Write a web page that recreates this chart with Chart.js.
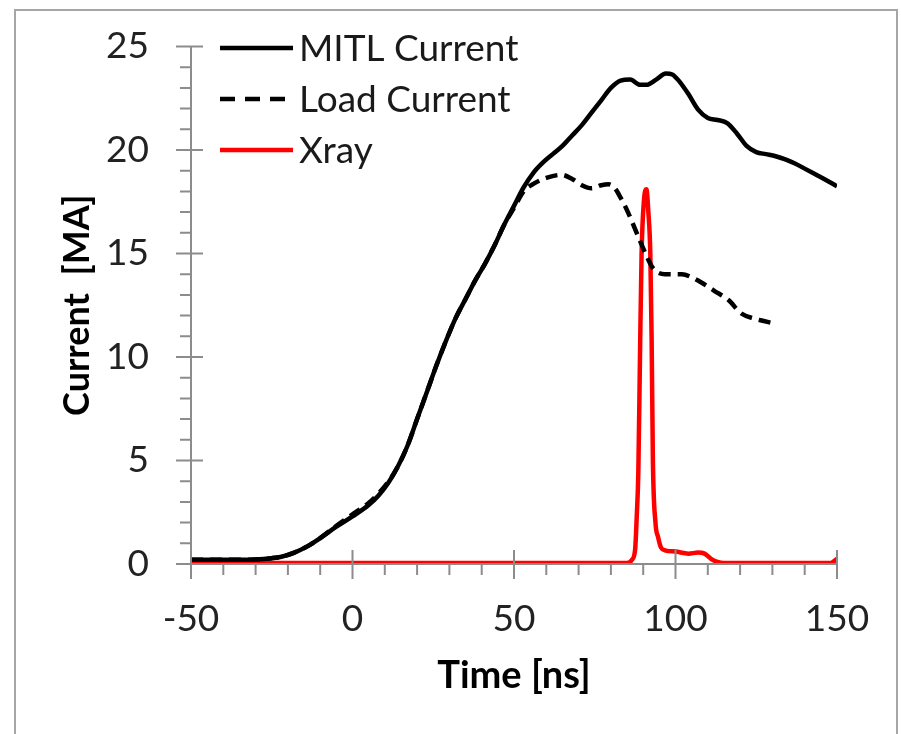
<!DOCTYPE html>
<html>
<head>
<meta charset="utf-8">
<script src="https://cdn.jsdelivr.net/npm/chart.js@4.4.0/dist/chart.umd.min.js"></script>
<style>
  body { margin: 0; background: #fff; }
  canvas { display: block; }
</style>
</head>
<body>
<canvas id="currentChart" width="901" height="734"></canvas>
<script>
// values
const mitlTime = [-50, -40, -30, -25, -22, -18, -14, -10, -5, 0, 5, 8, 11, 14, 17, 20, 23, 26, 29, 32, 35, 38, 41, 44, 47, 50, 53, 56, 59, 62, 65, 68, 71, 74, 77, 80, 83, 86, 89, 91, 94, 97, 99, 101, 104, 107, 110, 113, 116, 119, 122, 125, 128, 131, 134, 137, 140, 143, 146, 150];
const mitlCurrent = [0.2, 0.2, 0.22, 0.28, 0.35, 0.55, 0.85, 1.25, 1.8, 2.3, 2.85, 3.3, 3.9, 4.7, 5.7, 7.0, 8.3, 9.6, 10.8, 11.9, 12.8, 13.7, 14.5, 15.4, 16.4, 17.3, 18.2, 18.9, 19.4, 19.8, 20.2, 20.7, 21.2, 21.8, 22.4, 23.0, 23.35, 23.4, 23.15, 23.15, 23.4, 23.7, 23.65, 23.35, 22.7, 21.95, 21.55, 21.45, 21.3, 20.8, 20.2, 19.9, 19.8, 19.7, 19.55, 19.35, 19.1, 18.85, 18.6, 18.25];

const loadTime = [-50, -40, -30, -25, -22, -18, -14, -10, -5, 0, 5, 8, 11, 14, 17, 20, 23, 26, 29, 32, 35, 38, 41, 44, 47, 50, 53, 56.4, 60, 64.7, 68, 71, 74, 77, 79.2, 81, 83, 85.4, 88.5, 91, 93, 96.7, 102, 105, 108, 112, 116.4, 120.4, 124.5, 127, 129.7];
const loadCurrent = [0.2, 0.2, 0.22, 0.28, 0.35, 0.55, 0.85, 1.25, 1.85, 2.4, 2.95, 3.4, 3.95, 4.7, 5.7, 7.0, 8.3, 9.6, 10.8, 11.9, 12.8, 13.7, 14.5, 15.4, 16.4, 17.2, 18.0, 18.4, 18.65, 18.8, 18.6, 18.3, 18.15, 18.3, 18.35, 18.2, 17.7, 16.95, 15.8, 14.9, 14.3, 14.0, 14.0, 13.85, 13.6, 13.2, 12.75, 12.1, 11.85, 11.75, 11.65];

const xrayTime = [-50, -20, 0, 30, 60, 85, 86.5, 87.5, 88, 88.5, 89, 89.5, 90.2, 91, 91.6, 92.2, 92.6, 93, 93.8, 94.6, 95.5, 97, 100, 104, 107, 109, 111, 113, 115, 130, 145, 148, 150];
const xrayValue = [0.05, 0.05, 0.05, 0.05, 0.05, 0.05, 0.2, 0.7, 2.3, 4.5, 10, 15, 17.5, 18.1, 17, 15, 11, 5, 2, 1.3, 0.8, 0.65, 0.6, 0.5, 0.55, 0.5, 0.25, 0.1, 0.05, 0.05, 0.05, 0.05, 0.25];

const xTicks = [-50, 0, 50, 100, 150];
const yTicks = [0, 5, 10, 15, 20, 25];

const toPoints = (xs, ys) => xs.map((x, i) => ({ x, y: ys[i] }));

const axisColor = '#8c8c8c';
const labelFont = 'Lato, "Open Sans", sans-serif';

// axes with Excel style tick marks (major cross, minor outside)
const axisPlugin = {
    id: 'excelAxes',
    afterDatasetsDraw(chart) {
        const { ctx, scales } = chart;
        const xs = scales.x, ys = scales.y;
        const x0 = xs.getPixelForValue(-50);
        const y0 = ys.getPixelForValue(0);
        ctx.save();
        ctx.strokeStyle = axisColor;
        ctx.lineWidth = 2;
        ctx.beginPath();
        ctx.moveTo(x0, ys.getPixelForValue(25));
        ctx.lineTo(x0, y0);
        ctx.lineTo(xs.getPixelForValue(150), y0);
        // y ticks
        for (let v = 0; v <= 25; v++) {
            const py = ys.getPixelForValue(v);
            if (v % 5 === 0) {
                ctx.moveTo(x0 - 15, py); ctx.lineTo(x0 + 12, py);
            } else {
                ctx.moveTo(x0 - 11, py); ctx.lineTo(x0, py);
            }
        }
        // x ticks
        for (let t = -50; t <= 150; t += 10) {
            const px = xs.getPixelForValue(t);
            if (t % 50 === 0) {
                ctx.moveTo(px, y0 - 14); ctx.lineTo(px, y0 + 15);
            } else {
                ctx.moveTo(px, y0); ctx.lineTo(px, y0 + 11);
            }
        }
        ctx.stroke();
        ctx.restore();
    }
};

// legend drawn inside the plot, top left
const legendPlugin = {
    id: 'insideLegend',
    afterDraw(chart) {
        const { ctx, chartArea } = chart;
        ctx.save();
        chart.data.datasets.forEach((ds, i) => {
            const y = chartArea.top + 1.5 + i * 51;
            const x = chartArea.left + 29;
            ctx.strokeStyle = ds.borderColor;
            ctx.lineWidth = 4.5;
            ctx.setLineDash(ds.legendDash || []);
            ctx.beginPath();
            ctx.moveTo(x, y);
            ctx.lineTo(x + 73, y);
            ctx.stroke();
            ctx.setLineDash([]);
            ctx.fillStyle = '#1a1a1a';
            ctx.font = '37px ' + labelFont;
            ctx.textBaseline = 'middle';
            ctx.fillText(ds.label, x + 79, y + 1);
        });
        // outer frame
        ctx.strokeStyle = '#a6a6a6';
        ctx.lineWidth = 2;
        ctx.strokeRect(15, 10, 882, 740);
        ctx.restore();
    }
};

const ctx = document.getElementById('currentChart').getContext('2d');

new Chart(ctx, {
    type: 'line',
    data: {
        datasets: [
            {
                label: 'MITL Current',
                data: toPoints(mitlTime, mitlCurrent),
                borderColor: '#000000',
                borderWidth: 4.5,
                cubicInterpolationMode: 'monotone',
                pointRadius: 0
            },
            {
                label: 'Load Current',
                data: toPoints(loadTime, loadCurrent),
                borderColor: '#000000',
                borderWidth: 4.5,
                borderDash: [12, 7],
                legendDash: [15, 10],
                cubicInterpolationMode: 'monotone',
                pointRadius: 0
            },
            {
                label: 'Xray',
                data: toPoints(xrayTime, xrayValue),
                borderColor: '#ff0000',
                borderWidth: 4.5,
                cubicInterpolationMode: 'monotone',
                pointRadius: 0
            }
        ]
    },
    options: {
        responsive: false,
        animation: false,
        layout: {
            padding: { top: 46.5, right: 64, bottom: 0, left: 0 }
        },
        plugins: {
            legend: { display: false },
            tooltip: { enabled: false }
        },
        scales: {
            x: {
                type: 'linear',
                min: -50,
                max: 150,
                grid: { display: false, drawTicks: false },
                border: { display: false },
                afterFit: (scale) => {
                    scale.height = 170;
                    scale.paddingLeft = 0;
                    scale.paddingRight = 0;
                },
                afterBuildTicks: (scale) => { scale.ticks = xTicks.map(v => ({ value: v })); },
                ticks: {
                    padding: 33,
                    color: '#222',
                    font: { family: labelFont, size: 37 }
                },
                title: {
                    display: true,
                    text: 'Time [ns]',
                    color: '#000',
                    padding: { top: 0, bottom: 35 },
                    font: { family: labelFont, size: 38, weight: 'bold' }
                }
            },
            y: {
                min: 0,
                max: 25,
                grid: { display: false, drawTicks: false },
                border: { display: false },
                afterFit: (scale) => {
                    scale.width = 191;
                    scale.paddingTop = 0;
                    scale.paddingBottom = 0;
                },
                afterBuildTicks: (scale) => { scale.ticks = yTicks.map(v => ({ value: v })); },
                ticks: {
                    padding: 42,
                    color: '#222',
                    font: { family: labelFont, size: 37 }
                },
                title: {
                    display: true,
                    text: 'Current  [MA]',
                    color: '#000',
                    padding: { top: 56, bottom: 0 },
                    font: { family: labelFont, size: 36, weight: 'bold' }
                }
            }
        }
    },
    plugins: [axisPlugin, legendPlugin]
});
</script>
</body>
</html>
